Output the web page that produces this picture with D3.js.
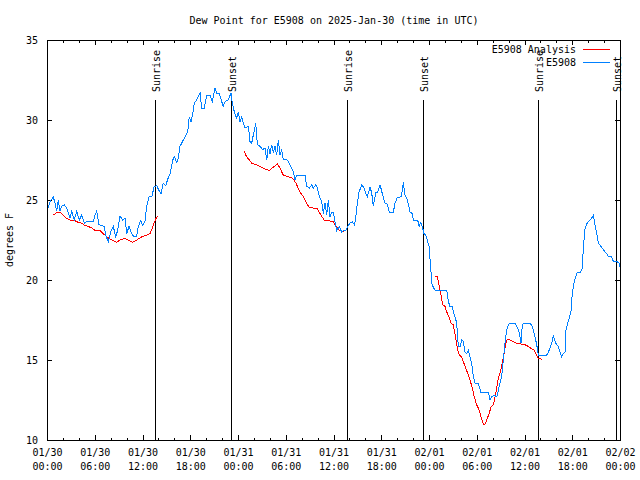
<!DOCTYPE html>
<html><head><meta charset="utf-8">
<script src="https://cdn.jsdelivr.net/npm/d3@7"></script>
<style>
body{margin:0;background:#fff}
svg{display:block}
text{font-family:"DejaVu Sans Mono","Liberation Mono",monospace;font-size:10px;fill:#000}
</style>
</head><body>
<svg id="chart" width="640" height="480"></svg>
<script>
// ---- data (hours since 2025-01-30 00:00 UTC) ----
const stationHours = [0.16,0.38,0.79,1.01,1.22,1.42,1.63,1.85,2.17,2.48,2.89,3.10,3.43,3.73,4.06,4.36,4.69,4.99,5.82,6.03,6.25,6.53,7.20,7.38,7.70,8.00,8.33,8.63,8.88,9.17,9.51,9.80,10.02,10.30,10.56,10.84,11.27,11.47,11.77,12.03,12.31,12.53,12.82,13.16,13.45,13.78,14.07,14.33,14.61,14.92,15.17,15.46,15.80,16.00,16.30,16.50,16.71,17.13,17.34,17.68,17.88,18.10,18.31,18.51,18.81,19.01,19.23,19.44,19.77,20.07,20.48,20.77,21.11,21.32,21.65,21.83,22.15,22.37,22.78,23.12,23.29,23.54,23.84,24.04,24.25,24.47,24.67,24.88,25.30,25.51,25.72,25.92,26.23,26.43,26.77,27.11,27.39,27.61,27.81,28.02,28.24,28.44,28.65,28.86,29.07,29.28,29.49,29.69,30.03,30.32,30.62,30.95,31.16,31.38,32.42,32.63,32.96,33.26,33.46,33.76,33.97,34.22,34.52,34.72,34.93,35.15,35.35,35.56,35.78,35.98,36.19,36.40,36.73,37.03,37.32,37.57,37.86,38.08,38.36,38.62,38.79,38.99,39.21,39.55,39.84,40.05,40.25,40.59,40.80,41.00,41.31,41.56,41.85,42.13,42.47,42.76,43.01,43.52,43.73,44.02,44.48,44.65,44.77,44.99,45.20,45.40,45.62,45.90,46.03,46.58,46.75,46.96,47.16,47.37,47.59,47.79,48.00,48.21,48.34,48.54,48.76,50.23,50.43,50.64,50.93,51.06,51.27,51.48,51.68,51.90,52.11,52.31,52.52,52.74,52.94,53.15,53.36,53.57,53.78,54.20,54.50,55.45,55.67,55.88,56.17,56.51,56.71,56.92,57.13,57.34,57.55,57.77,57.97,58.18,58.81,59.02,59.23,59.44,59.56,59.73,59.85,60.70,60.98,61.23,61.41,61.61,61.74,62.79,63.00,63.21,63.42,63.62,63.84,64.05,64.25,64.46,64.68,64.88,65.09,65.22,65.43,65.60,65.85,66.01,66.22,66.43,66.63,67.06,67.26,67.39,67.61,67.82,68.02,68.36,68.65,68.86,69.08,69.28,69.62,69.91,70.12,70.33,70.53,70.96,71.17,71.60,71.88,72.00];
const stationValues = [24.5,24.9,25.2,24.8,24.3,25.0,24.3,24.6,24.7,24.5,23.9,24.3,23.75,24.3,23.75,24.05,23.55,23.65,23.65,24.05,24.3,23.45,23.35,22.8,22.4,23.0,23.35,22.7,23.1,24.0,23.75,23.85,22.9,23.35,23.0,22.75,22.75,23.35,23.7,23.4,23.65,24.6,25.2,25.2,25.8,25.9,25.6,25.4,26.05,25.9,26.3,26.65,27.5,27.7,27.35,27.6,28.35,28.75,28.95,29.25,30.2,29.9,30.4,31.05,31.25,31.45,31.7,30.75,30.75,31.55,31.55,31.15,32.0,31.65,31.65,31.35,30.85,31.15,31.25,31.7,31.05,30.5,30.1,30.5,29.9,30.2,29.8,29.5,29.6,28.65,28.55,29.05,29.8,28.45,28.35,28.15,28.25,27.5,28.35,27.9,28.45,28.0,28.35,27.8,28.75,27.8,28.15,27.5,27.55,27.4,27.1,26.75,26.25,26.55,26.55,25.85,25.75,25.95,25.75,25.95,25.75,25.2,24.9,24.15,24.8,24.05,25.0,23.95,24.25,24.25,23.65,23.1,23.35,23.0,23.1,23.1,23.4,23.55,23.65,23.45,23.85,24.8,25.5,25.95,25.75,25.4,25.2,25.8,25.45,24.6,25.45,25.5,25.95,25.4,24.8,24.75,24.25,24.25,24.8,25.15,25.2,25.6,26.1,25.3,25.1,24.75,24.25,24.15,23.75,23.75,23.35,23.6,23.35,22.9,22.8,22.5,22.1,20.85,19.8,19.55,19.35,19.35,18.65,18.35,18.35,18.0,17.7,17.3,15.85,15.85,16.25,16.15,15.5,15.4,15.6,15.2,14.8,13.95,13.55,13.55,13.0,13.0,12.5,12.7,12.8,12.7,13.1,13.55,13.95,15.0,16.05,16.9,17.2,17.3,17.3,17.1,16.9,16.45,16.05,17.2,17.3,17.3,17.1,16.65,16.25,15.75,15.3,15.3,15.5,15.75,16.05,16.55,16.15,15.95,15.85,15.5,15.2,15.4,15.5,16.9,17.3,17.6,18.1,19.2,19.8,20.2,20.5,20.5,20.75,22.0,23.25,23.5,23.65,23.8,24.05,23.45,22.9,22.3,22.1,21.9,21.75,21.65,21.45,21.45,21.15,21.15,21.05,20.8];

// analysis series; null marks a gap between segments
const analysisHours = [0.79,1.34,1.63,2.05,2.48,2.89,3.52,3.93,4.36,4.78,5.19,5.62,6.03,6.66,7.07,7.50,7.92,8.33,8.76,9.17,9.80,10.22,10.72,11.27,11.90,12.53,12.94,13.16,13.48,13.70,13.91,
  19.0,
  24.76,25.09,25.42,25.72,26.35,26.98,27.52,27.93,28.44,28.94,29.28,29.69,30.32,30.87,31.29,31.79,32.21,32.63,32.92,33.46,33.89,34.31,34.81,35.47,35.98,36.32,36.73,37.23,37.66,
  43.0,
  48.76,49.05,49.26,49.51,49.72,50.01,50.23,50.52,50.77,51.06,51.36,51.61,51.81,52.11,52.31,52.61,52.87,53.15,53.44,53.69,53.99,54.28,54.54,54.82,55.04,55.33,55.58,55.79,56.08,56.30,56.51,56.71,56.92,57.13,57.46,57.67,57.84,58.18,58.60,59.02,59.56,60.07,60.48,60.91,61.23,61.54,61.74,62.16];
const analysisValues = [24.05,24.25,24.25,24.05,23.85,23.75,23.7,23.6,23.55,23.4,23.35,23.25,23.1,23.1,22.9,22.7,22.55,22.45,22.35,22.5,22.6,22.5,22.35,22.5,22.7,22.8,22.9,23.15,23.6,23.85,24.0,
  null,
  28.05,27.7,27.5,27.3,27.2,27.05,26.9,26.85,27.05,27.25,27.0,26.55,26.45,26.35,26.05,25.5,25.2,24.8,24.55,24.5,24.5,24.15,23.75,23.7,23.65,23.35,23.1,23.05,23.15,
  null,
  20.2,20.2,19.7,19.05,18.45,18.35,18.0,17.7,17.3,17.2,16.35,15.6,15.3,15.2,14.9,14.5,14.15,13.75,13.25,12.7,12.2,11.9,11.45,11.0,11.0,11.35,11.7,12.05,12.2,12.7,13.25,13.85,14.2,14.6,15.5,16.05,16.3,16.25,16.15,16.05,16.0,15.95,15.85,15.7,15.6,15.3,15.1,15.05];

const sunEventNames = ["Sunrise","Sunset","Sunrise","Sunset","Sunrise","Sunset"];
const sunEventHours = [13.57,23.12,37.64,47.29,61.74,71.44];

const yTickValues = [10,15,20,25,30,35];
const legendLabels = ["E5908 Analysis","E5908"];
const seriesColors = ["#ff0000","#0080ff"];
const titleText = "Dew Point for E5908 on 2025-Jan-30 (time in UTC)";
const yLabelText = "degrees F";

// ---- layout ----
const svg = d3.select("#chart");
const L = 47, R = 620, T = 40, B = 440;
const t0 = Date.UTC(2025,0,30,0,0);
const toDate = h => new Date(t0 + h*3600000);

const x = d3.scaleUtc().domain([toDate(0), toDate(72)]).range([L, R]);
const y = d3.scaleLinear().domain([10,35]).range([B, T]);

const majorTicks = d3.range(0, 73, 6).map(toDate);
const minorTicks = d3.range(0, 73, 2).filter(h => h % 6 !== 0).map(toDate);

const g = svg.append("g").attr("shape-rendering","crispEdges");

function styleAxis(sel){ sel.select(".domain").remove(); sel.selectAll("line").attr("stroke","#000"); }

// bottom axis major
const bx = g.append("g").attr("transform",`translate(0,${B})`)
  .call(d3.axisBottom(x).tickValues(majorTicks).tickSizeInner(-5).tickSizeOuter(0).tickPadding(8)
    .tickFormat(d3.utcFormat("%m/%d")));
styleAxis(bx);
bx.selectAll("text").each(function(d){
  const t = d3.select(this);
  t.text(null).attr("dy",null).attr("y",16);
  t.append("tspan").attr("x",0).attr("y",16).text(d3.utcFormat("%m/%d")(d));
  t.append("tspan").attr("x",0).attr("y",30).text(d3.utcFormat("%H:%M")(d));
});
bx.attr("font-family",null).attr("font-size",null);
// bottom minor
styleAxis(g.append("g").attr("transform",`translate(0,${B})`)
  .call(d3.axisBottom(x).tickValues(minorTicks).tickSizeInner(-2.5).tickSizeOuter(0).tickFormat("")));
// top mirrored
styleAxis(g.append("g").attr("transform",`translate(0,${T})`)
  .call(d3.axisTop(x).tickValues(majorTicks).tickSizeInner(-5).tickSizeOuter(0).tickFormat("")));
styleAxis(g.append("g").attr("transform",`translate(0,${T})`)
  .call(d3.axisTop(x).tickValues(minorTicks).tickSizeInner(-2.5).tickSizeOuter(0).tickFormat("")));

// left axis
const ly = g.append("g").attr("transform",`translate(${L},0)`)
  .call(d3.axisLeft(y).tickValues(yTickValues).tickSizeInner(-5).tickSizeOuter(0).tickPadding(9));
styleAxis(ly);
ly.attr("font-family",null).attr("font-size",null);
// right mirrored
styleAxis(g.append("g").attr("transform",`translate(${R},0)`)
  .call(d3.axisRight(y).tickValues(yTickValues).tickSizeInner(-5).tickSizeOuter(0).tickFormat("")));

// sunrise / sunset markers
const ev = g.selectAll(".ev").data(sunEventHours).enter().append("g");
ev.append("line")
  .attr("x1",d=>Math.round(x(toDate(d)))+0.5).attr("x2",d=>Math.round(x(toDate(d)))+0.5)
  .attr("y1",y(31.25)).attr("y2",B).attr("stroke","#000");
ev.append("text")
  .attr("transform",d=>`translate(${Math.round(x(toDate(d)))+5},${y(31.75)}) rotate(-90)`)
  .attr("text-anchor","start")
  .text((d,i)=>sunEventNames[i]);

// border
g.append("rect").attr("x",L+0.5).attr("y",T+0.5).attr("width",R-L).attr("height",B-T)
  .attr("fill","none").attr("stroke","#000");

// series
const stationData = stationHours.map((h,i)=>({t:toDate(h), v:stationValues[i]}));
const analysisData = analysisHours.map((h,i)=>({t:toDate(h), v:analysisValues[i]}));
const line = d3.line().defined(d=>d.v!=null).x(d=>x(d.t)).y(d=>y(d.v));

g.append("path").datum(analysisData).attr("d",line)
  .attr("fill","none").attr("stroke",seriesColors[0]).attr("stroke-width",1);
g.append("path").datum(stationData).attr("d",line)
  .attr("fill","none").attr("stroke",seriesColors[1]).attr("stroke-width",1);

// legend
legendLabels.forEach((lab,i)=>{
  const yy = 49 + i*13;
  svg.append("text").attr("x",576).attr("y",yy+4).attr("text-anchor","end").text(lab);
  g.append("line").attr("x1",583).attr("x2",610).attr("y1",yy+0.5).attr("y2",yy+0.5)
    .attr("stroke",seriesColors[i]);
});

// title & y label
svg.append("text").attr("x",334).attr("y",24).attr("text-anchor","middle").text(titleText);
svg.append("text").attr("transform","translate(13,240) rotate(-90)").attr("text-anchor","middle").text(yLabelText);
</script>
</body></html>
